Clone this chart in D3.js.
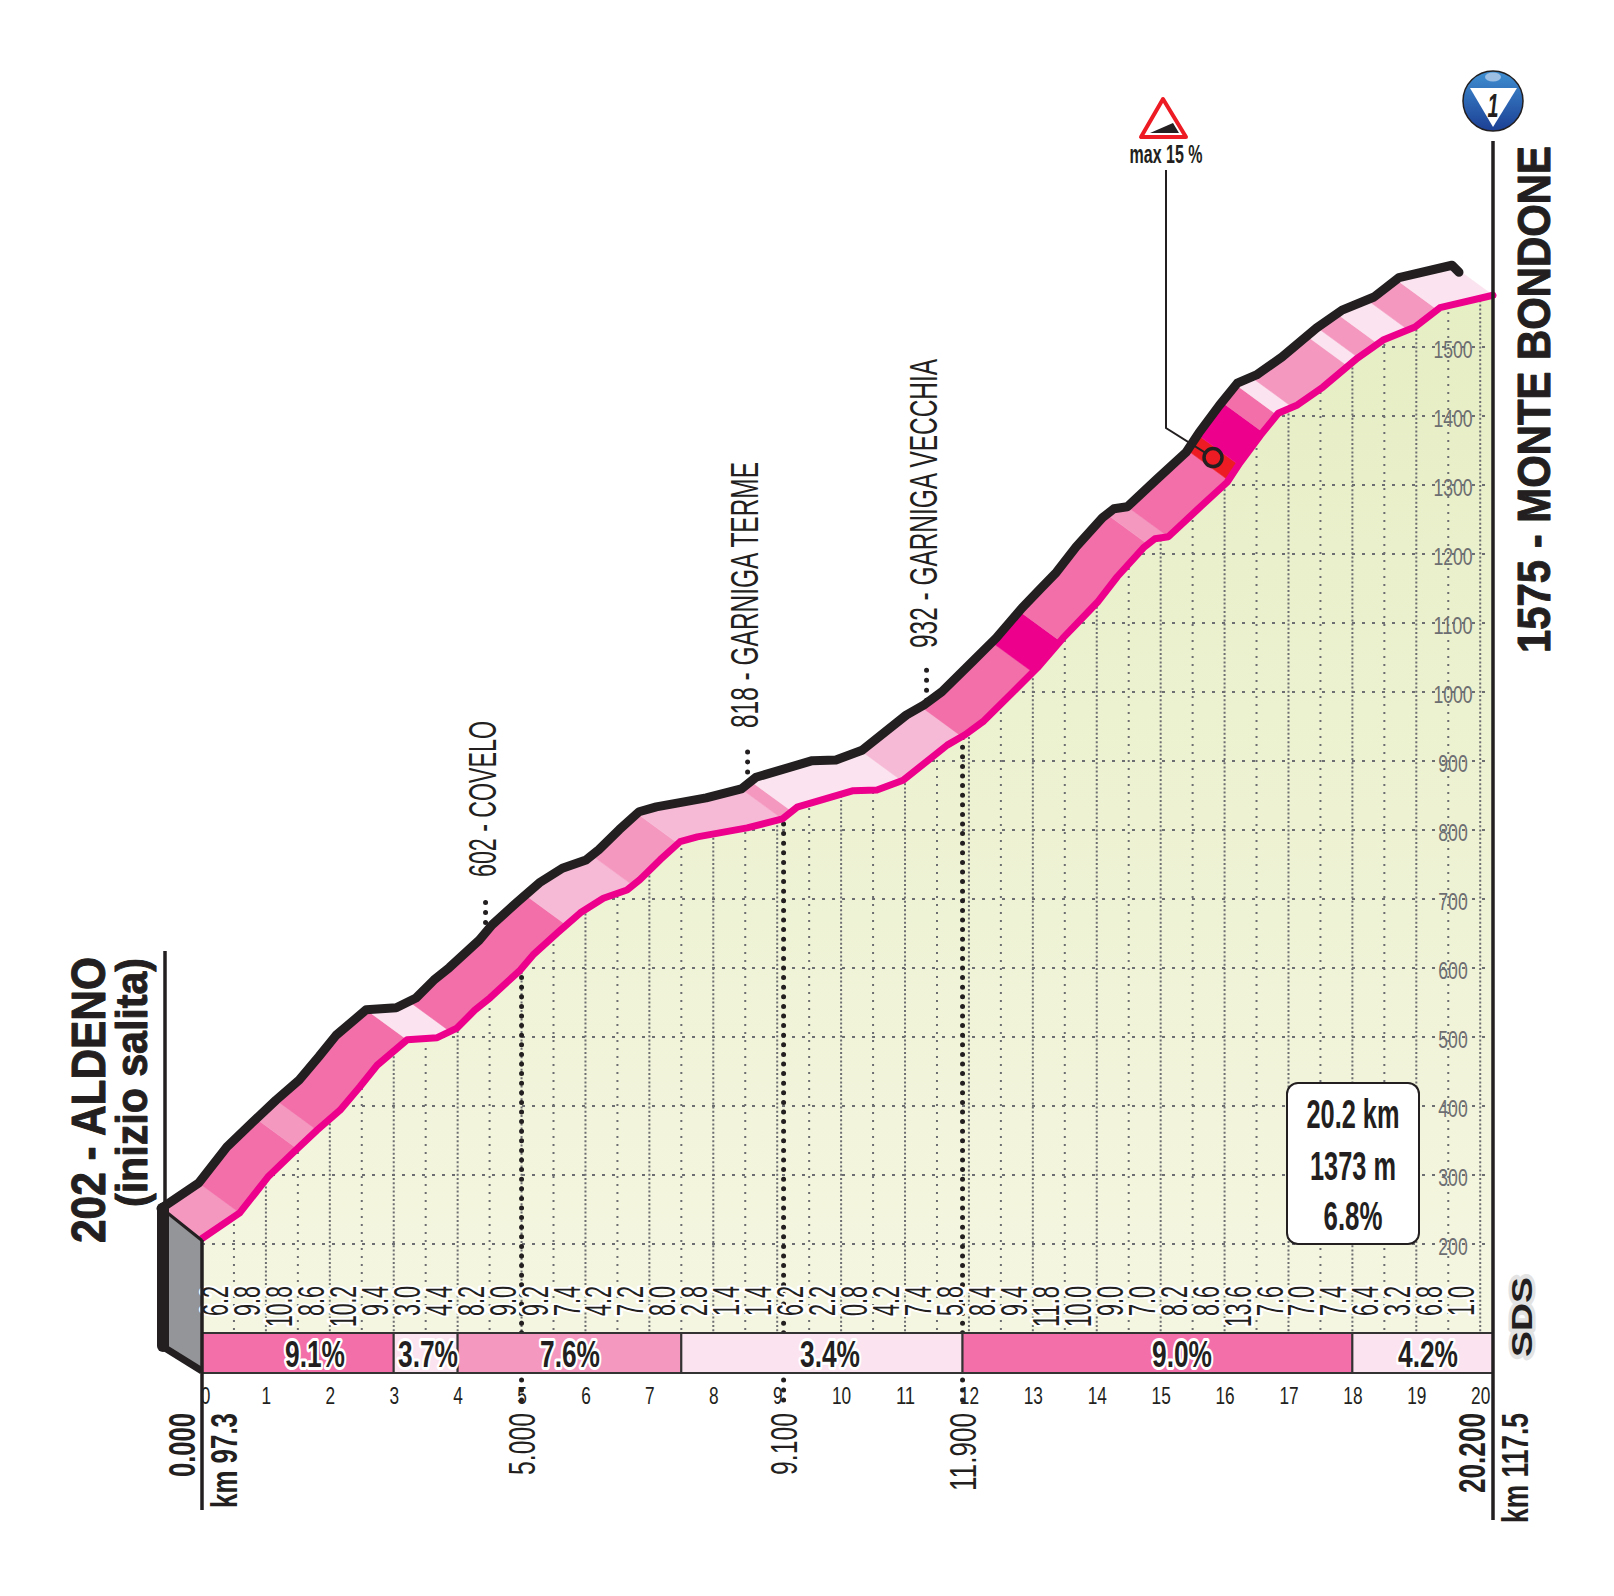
<!DOCTYPE html>
<html>
<head>
<meta charset="utf-8">
<script src="https://cdn.jsdelivr.net/npm/d3@7"></script>
<style>
    html, body { margin: 0; background: #fff; }
    svg { display: block; }
    text { font-family: "Liberation Sans Narrow", "Liberation Sans", sans-serif; fill: #231f20; }
</style>
</head>
<body>
<svg id="drawing_region"></svg>
<script>
// profile: km from start, altitude in m
var ProfileKm = [0, 0.59, 1.03, 1.42, 1.80, 2.16, 2.47, 2.74, 3.21, 3.68, 3.99, 4.27, 4.51, 4.98, 5.18, 5.56, 5.92, 6.28, 6.65, 6.85, 7.17, 7.48, 7.75, 8.53, 9.08, 9.31, 10.19, 10.56, 10.97, 11.66, 11.94, 12.22, 12.69, 13.07, 13.47, 13.74, 14.01, 14.32, 14.73, 14.91, 15.12, 15.57, 16.04, 16.24, 16.56, 16.84, 17.14, 17.54, 18.08, 18.48, 18.98, 19.37, 20.2];
var ProfileAlt = [208, 245, 297, 332, 365, 394, 428, 459, 496, 499, 513, 539, 557, 597, 619, 651, 680, 701, 713, 728, 757, 783, 790, 803, 816, 833, 857, 858, 872, 923, 938, 957, 1000, 1035, 1078, 1104, 1130, 1167, 1209, 1222, 1225, 1264, 1304, 1332, 1372, 1404, 1416, 1442, 1484, 1510, 1529, 1557, 1575];

// coloured stripes of the ribbon: where each one ends (km) and its class
var BandEnds = [0.59, 1.49, 1.80, 3.21, 3.88, 5.70, 6.74, 7.45, 9.08, 9.23, 10.95, 11.89, 13.0, 13.43, 14.8, 15.12, 16.06, 16.22, 16.6, 16.82, 17.06, 17.93, 18.09, 18.4, 18.87, 19.33, 20.2];
var BandClass = ['mid', 'strong', 'mid', 'strong', 'light', 'strong', 'pale', 'mid', 'pale', 'mid', 'light', 'pale', 'strong', 'hot', 'strong', 'mid', 'strong', 'red', 'hot', 'strong', 'light', 'mid', 'light', 'mid', 'light', 'mid', 'light'];

// gradient per half km
var HalfKmGrades = ['6.2', '9.8', '10.8', '8.6', '10.2', '9.4', '3.0', '4.4', '8.2', '9.0', '9.2', '7.4', '4.2', '7.2', '8.0', '2.8', '1.4', '1.4', '6.2', '2.2', '0.8', '4.2', '7.4', '5.8', '8.4', '9.4', '11.8', '10.0', '9.0', '7.0', '8.2', '8.6', '13.6', '7.6', '7.0', '7.4', '6.4', '3.2', '6.8', '1.0'];

// average gradient strip under the chart
var StripStarts = [0, 3, 4, 7.5, 11.9, 18];
var StripEnds = [3, 4, 7.5, 11.9, 18, 20.2];
var StripLabels = ['9.1%', '3.7%', '7.6%', '3.4%', '9.0%', '4.2%'];
var StripClass = ['strong', 'light', 'mid', 'light', 'strong', 'light'];

var KmTicks = d3.range(0, 21);
var AltTicks = d3.range(200, 1600, 100);

var PlaceKm = [5, 9.1, 11.9];
var PlaceNames = ['602 - COVELO', '818 - GARNIGA TERME', '932 - GARNIGA VECCHIA'];
var PlaceDist = ['5.000', '9.100', '11.900'];

var Colors = { light: '#fbe4ef', pale: '#f7bad6', mid: '#f498c0', strong: '#f26fa9', hot: '#ec008c', red: '#ed1c24' };

var Config = {
    parent: '#drawing_region',
    width: 1614,
    height: 1596,
    plot: { left: 202, right: 1493, top: 296, stripTop: 1333, stripBottom: 1373 },
    depth: { x: -41, y: -30 }
};

class ClimbProfile {
    constructor(config) {
        this.config = config;
        this.init();
    }

    init() {
        let self = this;
        let c = self.config;
        self.svg = d3.select(c.parent)
            .attr('width', c.width)
            .attr('height', c.height);

        self.x = d3.scaleLinear().domain([0, 20.2]).range([c.plot.left, c.plot.right]);
        self.y = d3.scaleLinear().domain([200, 1500]).range([1244, 347]);
        self.altAt = d3.scaleLinear().domain(ProfileKm).range(ProfileAlt);
        self.points = ProfileKm.map((km, i) => ({ km: km, alt: ProfileAlt[i] }));

        self.xTop = km => self.x(km) + c.depth.x;
        self.yTop = alt => self.y(alt) + c.depth.y;
    }

    // rotated or flat text squeezed to a given length, since the poster type is very condensed
    label(parent, str, px, py, o) {
        let t = parent.append('text')
            .attr('transform', `translate(${px},${py})` + (o.rot ? ' rotate(-90)' : ''))
            .attr('font-size', o.size)
            .attr('font-weight', o.bold ? 700 : 400)
            .text(str);
        if (o.len) t.attr('textLength', o.len).attr('lengthAdjust', 'spacingAndGlyphs');
        if (o.anchor) t.attr('text-anchor', o.anchor);
        if (o.family) t.style('font-family', o.family);
        if (o.fill) t.style('fill', o.fill);
        if (o.halo) {
            t.style('stroke', o.halo)
                .style('stroke-width', o.haloWidth || 6)
                .style('stroke-linejoin', 'round')
                .style('paint-order', 'stroke');
        }
        return t;
    }

    render() {
        this.renderGround();
        this.renderRibbon();
        this.renderWall();
        this.renderStrip();
        this.renderAxes();
        this.renderPlaces();
        this.renderHeads();
        this.renderBox();
        this.renderIcons();
    }

    renderGround() {
        let self = this;
        let c = self.config;
        let defs = self.svg.append('defs');

        let grad = defs.append('linearGradient')
            .attr('id', 'ground')
            .attr('gradientUnits', 'userSpaceOnUse')
            .attr('x1', 0).attr('x2', 0)
            .attr('y1', c.plot.top).attr('y2', c.plot.stripTop);
        grad.append('stop').attr('offset', 0).attr('stop-color', '#e6eec4');
        grad.append('stop').attr('offset', 1).attr('stop-color', '#f5f6e1');

        let ground = d3.area()
            .x(d => self.x(d.km))
            .y0(c.plot.stripTop)
            .y1(d => self.y(d.alt));

        defs.append('clipPath').attr('id', 'under_road')
            .append('path').attr('d', ground(self.points));

        self.svg.append('path')
            .attr('d', ground(self.points))
            .attr('fill', 'url(#ground)');

        let grid = self.svg.append('g').attr('clip-path', 'url(#under_road)');

        grid.selectAll('.h')
            .data(AltTicks)
            .join('line')
            .attr('x1', c.plot.left).attr('x2', c.plot.right)
            .attr('y1', d => self.y(d)).attr('y2', d => self.y(d))
            .attr('stroke', '#6d6e71')
            .attr('stroke-width', 2)
            .attr('stroke-dasharray', '3 7');

        grid.selectAll('.v')
            .data(d3.range(0.5, 20.5, 0.5))
            .join('line')
            .attr('x1', d => self.x(d)).attr('x2', d => self.x(d))
            .attr('y1', c.plot.top).attr('y2', c.plot.stripTop)
            .attr('stroke', '#6d6e71')
            .attr('stroke-width', 2)
            .attr('stroke-dasharray', d => Number.isInteger(d) ? '2 2.2' : '2 6');

        // heavier dotted drops for the three named places
        grid.selectAll('.drop')
            .data(PlaceKm)
            .join('line')
            .attr('x1', d => self.x(d)).attr('x2', d => self.x(d))
            .attr('y1', c.plot.top).attr('y2', c.plot.stripTop)
            .attr('stroke', '#231f20')
            .attr('stroke-width', 5)
            .attr('stroke-linecap', 'round')
            .attr('stroke-dasharray', '0 9.6');
    }

    renderRibbon() {
        let self = this;
        let starts = [0].concat(BandEnds.slice(0, -1));

        let band = d3.area()
            .x0(d => self.x(d.km)).y0(d => self.y(d.alt))
            .x1(d => self.xTop(d.km)).y1(d => self.yTop(d.alt));

        self.svg.selectAll('.band')
            .data(BandEnds)
            .join('path')
            .attr('class', 'band')
            .attr('d', (end, i) => {
                let a = starts[i];
                let inner = self.points.filter(p => p.km > a && p.km < end);
                return band([{ km: a, alt: self.altAt(a) }, ...inner, { km: end, alt: self.altAt(end) }]);
            })
            .attr('fill', (d, i) => Colors[BandClass[i]])
            .attr('stroke', (d, i) => Colors[BandClass[i]])
            .attr('stroke-width', 0.5);

        let road = d3.line().x(d => self.x(d.km)).y(d => self.y(d.alt));
        let ridge = d3.line().x(d => self.xTop(d.km)).y(d => self.yTop(d.alt));

        self.svg.append('path')
            .attr('d', road(self.points))
            .attr('fill', 'none')
            .attr('stroke', '#ec008c')
            .attr('stroke-width', 7)
            .attr('stroke-linejoin', 'round')
            .attr('stroke-linecap', 'round');

        self.svg.append('path')
            .attr('d', ridge(self.points) + 'l7,7')
            .attr('fill', 'none')
            .attr('stroke', '#231f20')
            .attr('stroke-width', 9)
            .attr('stroke-linejoin', 'round')
            .attr('stroke-linecap', 'round');
    }

    renderWall() {
        let self = this;
        let c = self.config;
        let x0 = self.x(0);
        let y0 = self.y(ProfileAlt[0]);
        let tx = self.xTop(0);
        let ty = self.yTop(ProfileAlt[0]);

        self.svg.append('path')
            .attr('d', `M${tx},${ty}L${x0},${y0}V${c.plot.stripBottom}L${tx},${c.plot.stripBottom - 26}Z`)
            .attr('fill', '#939598');

        self.svg.append('path')
            .attr('d', `M${tx + 6},${ty + 4}L${x0},${y0 + 2}`)
            .attr('stroke', '#231f20')
            .attr('stroke-width', 3);

        self.svg.append('line')
            .attr('x1', tx + 2).attr('x2', tx + 2)
            .attr('y1', ty).attr('y2', c.plot.stripBottom - 27)
            .attr('stroke', '#231f20')
            .attr('stroke-width', 12)
            .attr('stroke-linecap', 'round');

        self.svg.append('line')
            .attr('x1', tx + 4).attr('x2', x0)
            .attr('y1', c.plot.stripBottom - 25).attr('y2', c.plot.stripBottom - 2)
            .attr('stroke', '#231f20')
            .attr('stroke-width', 7);
    }

    renderStrip() {
        let self = this;
        let c = self.config;
        let h = c.plot.stripBottom - c.plot.stripTop;

        self.svg.selectAll('.seg')
            .data(StripLabels)
            .join('rect')
            .attr('class', 'seg')
            .attr('x', (d, i) => self.x(StripStarts[i]))
            .attr('width', (d, i) => self.x(StripEnds[i]) - self.x(StripStarts[i]))
            .attr('y', c.plot.stripTop)
            .attr('height', h)
            .attr('fill', (d, i) => Colors[StripClass[i]])
            .attr('stroke', '#333')
            .attr('stroke-width', 2);

        StripLabels.forEach((d, i) => {
            let mid = [315, 428, 570, 830, 1182, 1428][i];
            self.label(self.svg, d, mid, 1367, { size: 37, bold: true, len: 60, anchor: 'middle', halo: '#fff', haloWidth: 6 });
        });

        HalfKmGrades.forEach((d, i) => {
            let len = d.length > 3 ? 41 : 30;
            self.label(self.svg, d, self.x(i * 0.5) + 26, 1286 + len, { size: 36, rot: true, len: len, halo: '#fff', haloWidth: 6 });
        });
    }

    renderAxes() {
        let self = this;
        let c = self.config;

        let xaxis = d3.axisBottom(self.x).tickValues(KmTicks).tickSize(0);
        let xg = self.svg.append('g').attr('transform', 'translate(0,1385)').call(xaxis);
        xg.select('.domain').remove();
        xg.attr('font-family', null);
        xg.selectAll('text')
            .attr('font-size', 23)
            .attr('dy', '0.71em')
            .attr('textLength', d => String(d).length * 9.6)
            .attr('lengthAdjust', 'spacingAndGlyphs');
        xg.selectAll('.tick').filter(d => d === 0).select('text').attr('x', 3);

        let yaxis = d3.axisLeft(self.y).tickValues(AltTicks).tickFormat(d3.format('d')).tickSize(0).tickPadding(0);
        let yg = self.svg.append('g').attr('transform', 'translate(1453,0)').call(yaxis);
        yg.select('.domain').remove();
        yg.attr('font-family', null);
        yg.attr('text-anchor', 'middle');
        yg.selectAll('text')
            .attr('font-size', 23)
            .attr('dy', '0.45em')
            .attr('textLength', d => String(d).length * 9.8)
            .attr('lengthAdjust', 'spacingAndGlyphs')
            .style('fill', '#6d6e71');

        // frame lines either side
        self.svg.append('line')
            .attr('x1', c.plot.left).attr('x2', c.plot.left)
            .attr('y1', 1240).attr('y2', 1510)
            .attr('stroke', '#231f20').attr('stroke-width', 3.5);
        self.svg.append('line')
            .attr('x1', c.plot.right).attr('x2', c.plot.right)
            .attr('y1', 141).attr('y2', 1520)
            .attr('stroke', '#231f20').attr('stroke-width', 3.5);
        self.svg.append('line')
            .attr('x1', 165).attr('x2', 165)
            .attr('y1', 951).attr('y2', 1206)
            .attr('stroke', '#231f20').attr('stroke-width', 3.5);

        self.label(self.svg, '0.000', 195, 1477, { size: 37, rot: true, bold: true, len: 64 });
        self.label(self.svg, 'km 97.3', 237, 1508, { size: 37, rot: true, bold: true, len: 95 });
        self.label(self.svg, '20.200', 1485, 1493, { size: 37, rot: true, bold: true, len: 80 });
        self.label(self.svg, 'km 117.5', 1528, 1523, { size: 37, rot: true, bold: true, len: 110 });
    }

    renderPlaces() {
        let self = this;
        let g = self.svg.append('g');

        g.selectAll('.below')
            .data(PlaceKm)
            .join('line')
            .attr('x1', d => self.x(d)).attr('x2', d => self.x(d))
            .attr('y1', 1380).attr('y2', 1404)
            .attr('stroke', '#231f20')
            .attr('stroke-width', 5)
            .attr('stroke-linecap', 'round')
            .attr('stroke-dasharray', '0 10');

        g.selectAll('.above')
            .data(PlaceKm)
            .join('line')
            .attr('x1', d => self.xTop(d) + 5).attr('x2', d => self.xTop(d) + 5)
            .attr('y1', d => self.yTop(self.altAt(d)) - 36).attr('y2', d => self.yTop(self.altAt(d)) - 4)
            .attr('stroke', '#231f20')
            .attr('stroke-width', 5)
            .attr('stroke-linecap', 'round')
            .attr('stroke-dasharray', '0 10');

        let nameBase = [[496, 877, 156], [758, 728, 266], [937, 648, 289]];
        PlaceNames.forEach((d, i) => {
            self.label(g, d, nameBase[i][0], nameBase[i][1], { size: 38, rot: true, len: nameBase[i][2] });
        });

        let distLen = [62, 62, 78];
        PlaceDist.forEach((d, i) => {
            let px = self.x(PlaceKm[i]) + 13;
            self.label(g, d, px, 1413 + distLen[i], { size: 36, rot: true, len: distLen[i] });
        });
    }

    renderHeads() {
        let self = this;
        let heavy = { rot: true, bold: true, family: '"Liberation Sans", sans-serif', halo: '#231f20', haloWidth: 1 };
        self.label(self.svg, '202 - ALDENO', 105, 1243, Object.assign({ size: 48, len: 286 }, heavy));
        self.label(self.svg, '(inizio salita)', 147, 1207, Object.assign({ size: 44, len: 249 }, heavy));
        self.label(self.svg, '1575 - MONTE BONDONE', 1550, 653, Object.assign({ size: 46, len: 507 }, heavy));
    }

    renderBox() {
        let self = this;
        self.svg.append('rect')
            .attr('x', 1287).attr('y', 1083)
            .attr('width', 132).attr('height', 161)
            .attr('rx', 11)
            .attr('fill', '#fff')
            .attr('stroke', '#231f20')
            .attr('stroke-width', 2);
        self.label(self.svg, '20.2 km', 1353, 1128, { size: 41, bold: true, len: 93, anchor: 'middle' });
        self.label(self.svg, '1373 m', 1353, 1180, { size: 41, bold: true, len: 86, anchor: 'middle' });
        self.label(self.svg, '6.8%', 1353, 1230, { size: 41, bold: true, len: 59, anchor: 'middle' });
    }

    renderIcons() {
        let self = this;
        let kmSteep = 16.14;
        let cx = (self.x(kmSteep) + self.xTop(kmSteep)) / 2;
        let cy = (self.y(self.altAt(kmSteep)) + self.yTop(self.altAt(kmSteep))) / 2;

        // max gradient sign and its leader
        self.svg.append('path')
            .attr('d', `M1166,170V428L${cx},${cy}`)
            .attr('fill', 'none')
            .attr('stroke', '#231f20')
            .attr('stroke-width', 2);
        self.svg.append('circle')
            .attr('cx', cx).attr('cy', cy).attr('r', 9)
            .attr('fill', '#ed1c24')
            .attr('stroke', '#231f20')
            .attr('stroke-width', 3.5);
        self.svg.append('path')
            .attr('d', 'M1163,99L1141,137H1186Z')
            .attr('fill', '#fff')
            .attr('stroke', '#ed1c24')
            .attr('stroke-width', 4)
            .attr('stroke-linejoin', 'round');
        self.svg.append('path')
            .attr('d', 'M1150,133L1173,123L1179,133Z')
            .attr('fill', '#231f20');
        self.label(self.svg, 'max 15 %', 1166, 163, { size: 25, bold: true, len: 73, anchor: 'middle' });

        // mountain category badge
        let defs = self.svg.append('defs');
        let blue = defs.append('linearGradient').attr('id', 'badge')
            .attr('x1', 0).attr('x2', 0).attr('y1', 0).attr('y2', 1);
        blue.append('stop').attr('offset', 0).attr('stop-color', '#3f8fd2');
        blue.append('stop').attr('offset', 1).attr('stop-color', '#1c3f94');
        self.svg.append('circle')
            .attr('cx', 1493).attr('cy', 101).attr('r', 30)
            .attr('fill', 'url(#badge)')
            .attr('stroke', '#231f20')
            .attr('stroke-width', 1.5);
        self.svg.append('ellipse')
            .attr('cx', 1493).attr('cy', 77).attr('rx', 8).attr('ry', 4.5)
            .attr('fill', '#9dbfe3');
        self.svg.append('path')
            .attr('d', 'M1470,88H1517L1493,127Z')
            .attr('fill', '#fff');
        self.label(self.svg, '1', 1493, 117, { size: 34, bold: true, anchor: 'middle', len: 11, family: '"Liberation Sans", sans-serif' })
            .style('font-style', 'italic');

        // SDS mark
        self.label(self.svg, 'SDS', 1532, 1357, { size: 30, rot: true, bold: true, len: 80, family: '"Liberation Sans", sans-serif', halo: '#e3e3e3', haloWidth: 7 });
    }
}

const climb = new ClimbProfile(Config);
climb.render();
</script>
</body>
</html>
